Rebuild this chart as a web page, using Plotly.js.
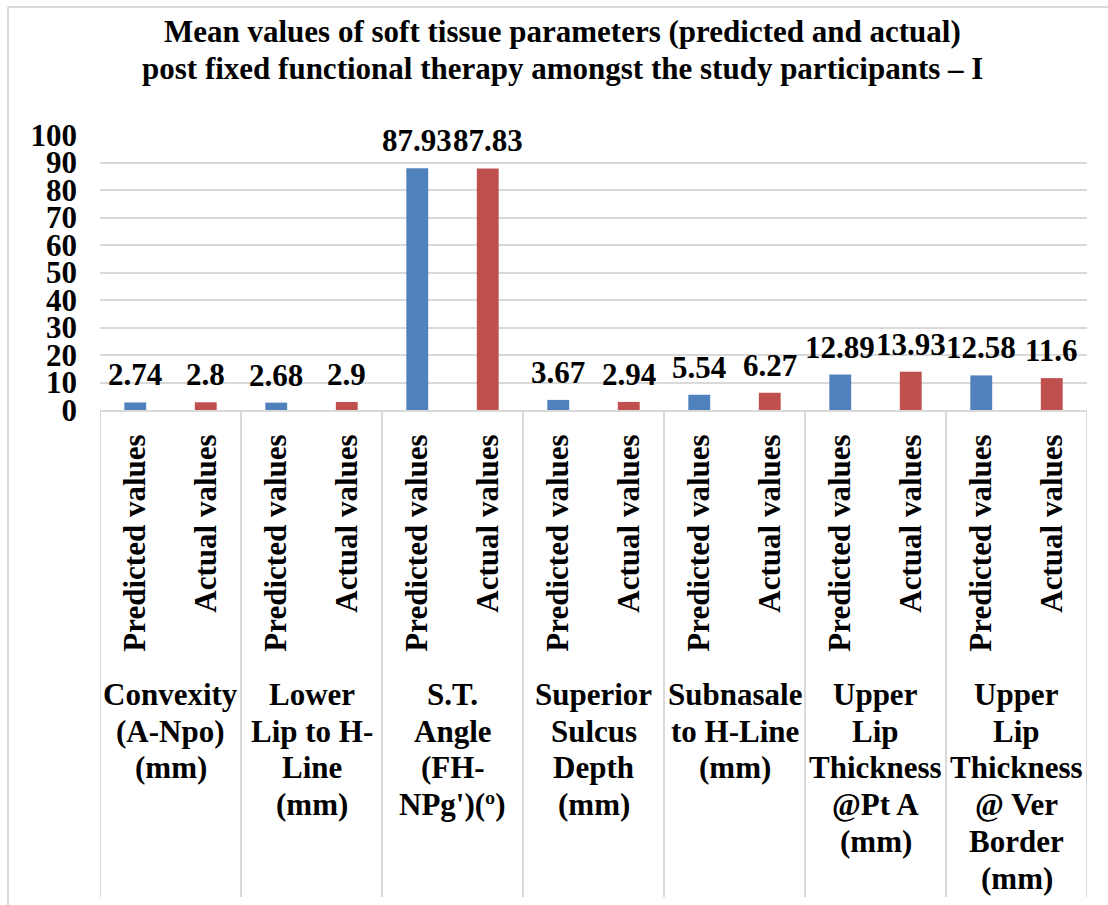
<!DOCTYPE html>
<html>
<head>
<meta charset="utf-8">
<script src="https://cdn.plot.ly/plotly-3.0.1.min.js"></script>
<style>html,body{margin:0;padding:0;background:#fff;}#chart{width:1108px;height:905px;}</style>
</head>
<body>
<div id="chart"></div>
<script>
// ---- data ----
const titleLines = [
  "Mean values of soft tissue parameters (predicted and actual)",
  "post fixed functional therapy amongst the study participants – I"
];
const groups = [
  "Convexity<br>(A-Npo)<br>(mm)",
  "Lower<br>Lip to H-<br>Line<br>(mm)",
  "S.T.<br>Angle<br>(FH-<br>NPg')(º)",
  "Superior<br>Sulcus<br>Depth<br>(mm)",
  "Subnasale<br>to H-Line<br>(mm)",
  "Upper<br>Lip<br>Thickness<br>@Pt A<br>(mm)",
  "Upper<br>Lip<br>Thickness<br>@ Ver<br>Border<br>(mm)"
];
const seriesNames = ["Predicted values", "Actual values"];
const predicted = [2.74, 2.68, 87.93, 3.67, 5.54, 12.89, 12.58];
const actual = [2.8, 2.9, 87.83, 2.94, 6.27, 13.93, 11.6];
const yTicks = [0, 10, 20, 30, 40, 50, 60, 70, 80, 90, 100];

// ---- layout constants ----
const W = 1108, H = 905;
const mL = 100, mR = 21, mT = 135, mB = 495;
const plotH = H - mT - mB;
const plotW = W - mL - mR;
const FONT = "Times New Roman, Liberation Serif, serif";
const fnt = (s) => ({family: FONT, size: s, color: "#000", weight: "bold"});
const BLUE = "#4F81BD", RED = "#C0504D", GRID = "#d9d9d9";
const py = (pix) => (H - mB - pix) / plotH;  // pixel y -> paper y
const px = (pix) => (pix - mL) / plotW;       // pixel x -> paper x

const xPred = predicted.map((v, i) => 2 * i);
const xAct = actual.map((v, i) => 2 * i + 1);

const traces = [
  {type: "bar", x: xPred, y: predicted, name: seriesNames[0], width: 0.31,
   marker: {color: BLUE}, hoverinfo: "x+y"},
  {type: "bar", x: xAct, y: actual, name: seriesNames[1], width: 0.31,
   marker: {color: RED}, hoverinfo: "x+y"}
];

const annotations = [];
// title lines
titleLines.forEach((t, k) => {
  annotations.push({xref: "paper", yref: "paper", x: px(562), y: py(31 + 37 * k),
    text: t, showarrow: false, xanchor: "center", yanchor: "middle",
    font: fnt(31), borderpad: 0});
});
// data labels
[[xPred, predicted], [xAct, actual]].forEach(([xs, vs]) => {
  vs.forEach((v, i) => {
    annotations.push({x: xs[i], y: v, xref: "x", yref: "y", text: String(v),
      showarrow: false, yanchor: "bottom", xanchor: "center", yshift: 9,
      font: fnt(31), borderpad: 0});
  });
});
// group labels (one annotation per line for tight spacing)
groups.forEach((g, i) => {
  g.split("<br>").forEach((line, k) => {
    annotations.push({x: 2 * i + 0.5, xref: "x", yref: "paper",
      y: py(694.5 + 36.7 * k), text: line, showarrow: false,
      xanchor: "center", yanchor: "middle", font: fnt(31), borderpad: 0});
  });
});

const shapes = [];
// category dividers
for (let i = 0; i <= groups.length; i++) {
  shapes.push({type: "line", xref: "x", yref: "paper", x0: 2 * i - 0.5, x1: 2 * i - 0.5,
    y0: 0, y1: py(897), line: {color: GRID, width: 2}});
}
// outer chart border (left & top)
shapes.push({type: "line", xref: "paper", yref: "paper", x0: px(8), x1: px(8),
  y0: py(7), y1: py(910), line: {color: GRID, width: 2}});
shapes.push({type: "line", xref: "paper", yref: "paper", x0: px(8), x1: px(1115),
  y0: py(7), y1: py(7), line: {color: GRID, width: 2}});

const layout = {
  width: W, height: H,
  margin: {l: mL, r: mR, t: mT, b: mB, pad: 0},
  paper_bgcolor: "#fff", plot_bgcolor: "#fff",
  showlegend: false,
  barmode: "overlay",
  xaxis: {
    range: [-0.5, 2 * groups.length - 0.5],
    tickvals: xPred.concat(xAct),
    ticktext: xPred.map(() => seriesNames[0]).concat(xAct.map(() => seriesNames[1])),
    tickangle: -90, tickfont: fnt(31), ticks: "", ticklabelstandoff: 10,
    showgrid: false, zeroline: false,
    showline: true, linecolor: GRID, linewidth: 2
  },
  yaxis: {
    range: [0, 100], tickvals: yTicks, ticktext: yTicks.map(String),
    tickfont: fnt(31), ticks: "", ticklabelstandoff: 22,
    showgrid: true, gridcolor: GRID, gridwidth: 2,
    zeroline: false, showline: false
  },
  annotations: annotations,
  shapes: shapes
};

Plotly.newPlot("chart", traces, layout, {displayModeBar: false, staticPlot: true});
</script>
</body>
</html>
